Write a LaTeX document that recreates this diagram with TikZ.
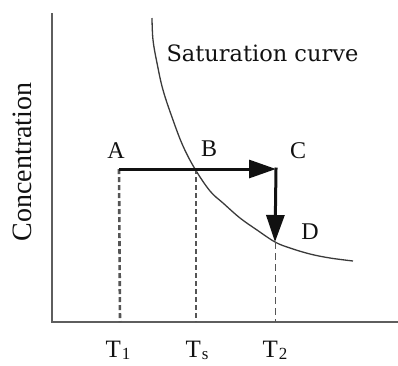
\documentclass[tikz,border=0pt]{standalone}
\usepackage{fontspec}
\setmainfont{Liberation Serif}
\newfontfamily\satfont{DejaVu Serif}
\usetikzlibrary{arrows.meta, positioning}
\definecolor{ink}    {HTML}{111111}
\definecolor{axisgray}{HTML}{5E5E5E}
\definecolor{curvegray}{HTML}{3A3A3A}
\definecolor{dropgray}{HTML}{555555}
\tikzset{
  axis/.style   = {axisgray, line width=2.2pt},
  satline/.style= {curvegray, line width=1.3pt},
  arr/.style    = {ink, line width=3pt,
                   -{Triangle[length=27pt, width=18pt]}},
  drop/.style   = {dropgray, line width=2.6pt, dash pattern=on 5pt off 3pt},
  thindrop/.style = {dropgray, line width=1pt, dash pattern=on 7pt off 4pt},
  pt/.style     = {font=\fontsize{24}{26}\selectfont, anchor=base, text=ink},
  tick/.style   = {font=\fontsize{25}{27}\selectfont, anchor=base, text=ink},
}
\newcommand{\tlab}[1]{T\kern1pt\raisebox{-2pt}{\fontsize{17}{18}\selectfont #1}}

\begin{document}
\begin{tikzpicture}[x=1pt, y=-1pt]
  \useasboundingbox (0,0) rectangle (398,365);

  % axes
  \coordinate (origin) at (52,322);
  \coordinate (ytop)   at (52,13);
  \coordinate (xend)   at (398,322);
  \draw[axis] (ytop) -- (origin) -- (xend);

  % saturation curve
  \draw[satline] plot[smooth, tension=0.6] coordinates {
    (152,18) (153,40) (157,63) (163,90) (173,120) (183,146) (195,169)
    (210,191) (223,203) (240,218) (257,230) (275,242) (290,248)
    (310,254) (330,258) (353,261)};
  \node[font=\satfont\fontsize{22.5}{24}\selectfont, anchor=base west,
        text=ink] (satlabel) at (163,61) {Saturation curve};

  % states
  \coordinate (a) at (119,169);
  \coordinate (b) at (196,169);
  \coordinate (c) at (276,169);
  \coordinate (d) at (275,242);
  \coordinate (t1) at (120,322);
  \coordinate (ts) at (196,322);
  \coordinate (t2) at (275,322);

  % drop lines
  \draw[drop] (a) -- (t1);
  \draw[drop] (b) -- (ts);
  \draw[thindrop] (d) -- (t2);

  % cooling path
  \draw[arr] (a) -- (c);
  \draw[arr, line cap=rect] (c) -- (d);

  % labels
  \node[pt] (alab) at (116,158) {A};
  \node[pt] (blab) at (209,156) {B};
  \node[pt] (clab) at (298,158) {C};
  \node[pt] (dlab) at (310,239) {D};

  \node[tick] (t1lab) at (118,357) {\tlab{1}};
  \node[tick] (tslab) at (197,357) {\tlab{s}};
  \node[tick] (t2lab) at (275,357) {\tlab{2}};

  \node[font=\fontsize{28}{30}\selectfont, rotate=90, text=ink]
    (ylab) at (22,162) {Concentration};

\end{tikzpicture}
\end{document}
